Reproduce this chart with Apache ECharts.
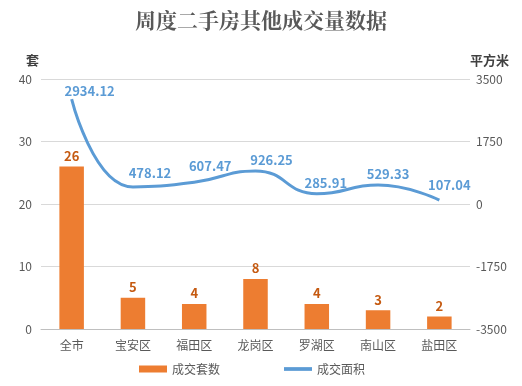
<!DOCTYPE html>
<html><head><meta charset="utf-8">
<script src="https://cdn.jsdelivr.net/npm/echarts@6/dist/echarts.min.js"></script>
<style>html,body{margin:0;padding:0;background:#fff}#c{width:522px;height:386px}</style>
</head><body><div id="c"></div>
<script>
const categories = ['全市','宝安区','福田区','龙岗区','罗湖区','南山区','盐田区'];
const unitCounts = [26,5,4,8,4,3,2];
const areaValues = [2934.12,478.12,607.47,926.25,285.91,529.33,107.04];
const leftTicks = {min:0,max:40,interval:10};
const rightTicks = {min:-3500,max:3500,interval:1750};

// label placement tweaks (style only)
const areaLabelOffsets = [[18,2],[17,-3],[16,-6],[16,0],[9,0],[10,-1],[10,-5]];

const chart = echarts.init(document.getElementById('c'));
const font = '"Noto Sans CJK SC","Microsoft YaHei",sans-serif';
chart.setOption({
  animation:false,
  textStyle:{fontFamily:font},
  title:{text:'周度二手房其他成交量数据',left:'center',top:5,
    textStyle:{fontFamily:'"Noto Serif CJK SC","Noto Sans CJK SC",serif',fontSize:21,fontWeight:'bold',color:'#595959'}},
  grid:{left:41,right:52,top:79,bottom:57},
  legend:{bottom:6,left:134,itemGap:64,itemWidth:28,itemHeight:7,
    textStyle:{color:'#595959',fontSize:12},
    data:[{name:'成交套数',icon:'rect'},{name:'成交面积',icon:'path://M0,0H30V4H0Z'}]},
  xAxis:{type:'category',data:categories,
    axisLine:{lineStyle:{color:'#BFBFBF',width:1}},axisTick:{show:false},
    axisLabel:{color:'#595959',fontSize:12,margin:10}},
  yAxis:[
    {type:'value',min:leftTicks.min,max:leftTicks.max,interval:leftTicks.interval,
     name:'套',nameLocation:'end',nameGap:12,nameTextStyle:{color:'#404040',fontSize:13,fontWeight:'bold',align:'right',padding:[0,2,0,0]},
     axisLine:{show:false},axisTick:{show:false},
     axisLabel:{color:'#595959',fontSize:12,margin:9},
     splitLine:{lineStyle:{color:'#D9D9D9'}}},
    {type:'value',min:rightTicks.min,max:rightTicks.max,interval:rightTicks.interval,
     name:'平方米',nameLocation:'end',nameGap:12,nameTextStyle:{color:'#404040',fontSize:13,fontWeight:'bold',align:'left',padding:[0,0,0,0]},
     axisLine:{show:false},axisTick:{show:false},
     axisLabel:{color:'#595959',fontSize:12,margin:6,formatter:v=>String(v)},
     splitLine:{show:false}}
  ],
  series:[
    {name:'成交套数',type:'bar',data:unitCounts,barWidth:'40%',yAxisIndex:0,
     itemStyle:{color:'#ED7D31'},
     label:{show:true,position:'top',distance:4,color:'#C55A11',fontWeight:'bold',fontSize:13}},
    {name:'成交面积',type:'line',yAxisIndex:1,smooth:true,showSymbol:true,symbol:'circle',symbolSize:0,
     data:areaValues.map((v,i)=>({value:v,label:{offset:areaLabelOffsets[i]}})),
     lineStyle:{color:'#5B9BD5',width:3},itemStyle:{color:'#5B9BD5'},
     label:{show:true,position:'top',distance:4,color:'#5B9BD5',fontWeight:'bold',fontSize:13}}
  ]
});
</script></body></html>
